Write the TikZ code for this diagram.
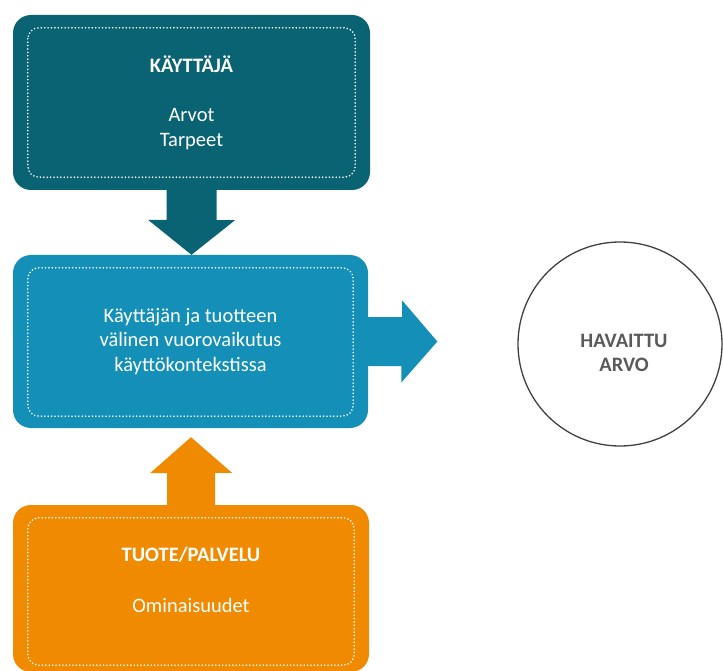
\documentclass[tikz,border=0pt]{standalone}
\usepackage{fontspec}
\setmainfont{Carlito}
\definecolor{userteal}{RGB}{10,99,115}
\definecolor{midblue}{RGB}{20,144,184}
\definecolor{prodorange}{RGB}{240,138,0}
\definecolor{ringgray}{RGB}{64,64,64}
\definecolor{textgray}{RGB}{89,89,89}
\begin{document}
\begin{tikzpicture}[x=1pt,y=-1pt,
        box/.style={rounded corners=18pt, inner sep=0pt, text=white, align=center,
            font=\fontsize{20.5}{24.5}\selectfont},
        dots/.style={white, line width=1.8pt, line cap=round,
            dash pattern=on 0pt off 3.4pt, rounded corners=11pt}]
    \useasboundingbox (0,0) rectangle (723,671);
    \node[box, fill=userteal, minimum width=357pt, minimum height=175pt] (kayttaja) at (191.5,102.5)
        {\textbf{KÄYTTÄJÄ}\\[25pt]Arvot\\Tarpeet};
    \node[box, fill=midblue, minimum width=355pt, minimum height=173pt] (vuoro) at (190.5,341.5)
        {Käyttäjän ja tuotteen\\välinen vuorovaikutus\\käyttökontekstissa};
    \node[box, fill=prodorange, minimum width=356pt, minimum height=167pt] (tuote) at (191,588.5)
        {\textbf{TUOTE/PALVELU}\\[27pt]Ominaisuudet\\[-7pt]\mbox{}};
    \foreach \n/\b in {kayttaja/13,vuoro/12,tuote/7}
        \draw[dots] ([shift={(15pt,-13pt)}]\n.north west) rectangle ([shift={(-15pt,\b pt)}]\n.south east);
    \node[draw=ringgray, line width=1.3pt, circle, minimum size=204pt, inner sep=0pt] (arvo) at (620,344) {};
    \node[text=textgray, align=center, font=\fontsize{20.5}{24.5}\selectfont\bfseries] (arvoteksti) at (624,353)
        {HAVAITTU\\ARVO};
    \fill[userteal] ([xshift=-25pt]kayttaja.south) -- ++(50,0) -- ++(0,30) -- ++(18.5,0)
        -- (kayttaja.south |- vuoro.north) -- ++(-43.5,-35) -- ++(18.5,0) -- cycle;
    \fill[prodorange] ([xshift=-24pt]tuote.north) -- ++(48,0) -- ++(0,-32) -- ++(17,0)
        -- ([yshift=-9pt]tuote.north |- vuoro.south) -- ++(-41,36) -- ++(17,0) -- cycle;
    \fill[midblue] ([yshift=24.5pt]vuoro.east) -- ++(34,0) -- ++(0,-16.5)
        -- ([xshift=-80pt]arvo.west |- vuoro.east) -- ++(-36,41) -- ++(0,-16.5) -- ++(-34,0) -- cycle;
\end{tikzpicture}
\end{document}
